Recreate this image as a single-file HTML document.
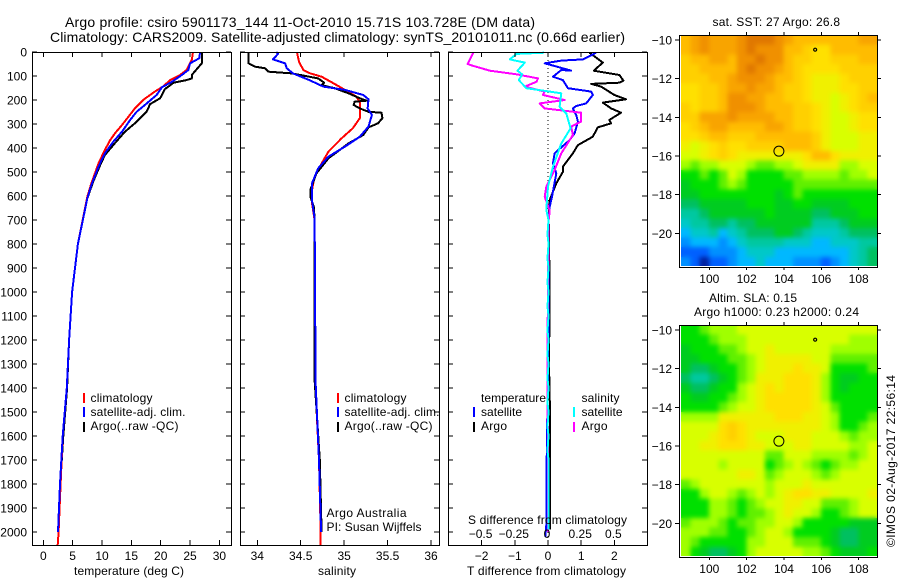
<!DOCTYPE html>
<html lang="en">
<head>
<meta charset="utf-8">
<title>Argo profile csiro 5901173_144</title>
<style>
html,body{margin:0;padding:0;background:#fff;}
svg{display:block;}
text{font-family:"Liberation Sans",sans-serif;font-size:12px;fill:#000;}
.t{font-size:14px;}
</style>
</head>
<body>
<svg id="chart" xmlns="http://www.w3.org/2000/svg" width="900" height="580" viewBox="0 0 900 580">
<defs>
<filter id="soften" filterUnits="userSpaceOnUse" x="660" y="20" width="240" height="560" color-interpolation-filters="sRGB">
<feGaussianBlur in="SourceGraphic" stdDeviation="2.5" result="b"/>
<feMerge><feMergeNode in="SourceGraphic"/><feMergeNode in="b"/></feMerge>
</filter>
<clipPath id="clip-sst"><rect x="681" y="35" width="196" height="231"/></clipPath>
<clipPath id="clip-sla"><rect x="681" y="325" width="196" height="231"/></clipPath>
</defs>
<rect x="0" y="0" width="900" height="580" fill="#fff"/>
<g id="maps"></g>
<g id="marks"></g>
<g id="axes"></g>

<text class="t" x="65" y="27" textLength="470">Argo profile: csiro 5901173_144 11-Oct-2010 15.71S 103.728E (DM data)</text>
<text class="t" x="50" y="42" textLength="575">Climatology: CARS2009. Satellite-adjusted climatology: synTS_20101011.nc (0.66d earlier)</text>

<text x="74" y="575" textLength="110">temperature (deg C)</text>
<text x="318" y="575" textLength="38">salinity</text>
<text x="467" y="575" textLength="159">T difference from climatology</text>
<text x="468" y="524" textLength="159">S difference from climatology</text>

<g>
<rect x="83" y="393" width="2" height="10" fill="#f00"/>
<rect x="83" y="407" width="2" height="10" fill="#00f"/>
<rect x="83" y="422" width="2" height="10" fill="#000"/>
<text x="90.5" y="402" textLength="62">climatology</text>
<text x="90.5" y="416" textLength="95">satellite-adj. clim.</text>
<text x="90.5" y="430" textLength="88">Argo(..raw -QC)</text>
</g>
<g>
<rect x="337" y="393" width="2" height="10" fill="#f00"/>
<rect x="337" y="407" width="2" height="10" fill="#00f"/>
<rect x="337" y="422" width="2" height="10" fill="#000"/>
<text x="344.5" y="402" textLength="62">climatology</text>
<text x="344.5" y="416" textLength="95">satellite-adj. clim.</text>
<text x="344.5" y="430" textLength="88">Argo(..raw -QC)</text>
<text x="326.5" y="517" textLength="80">Argo Australia</text>
<text x="326.5" y="531" textLength="95">PI: Susan Wijffels</text>
</g>
<g>
<text x="481" y="402" textLength="65">temperature</text>
<rect x="473" y="407" width="2" height="10" fill="#00f"/>
<rect x="473" y="422" width="2" height="10" fill="#000"/>
<text x="481" y="416" textLength="41">satellite</text>
<text x="481" y="430" textLength="26">Argo</text>
<text x="581.5" y="402" textLength="38">salinity</text>
<rect x="573" y="407" width="2" height="10" fill="#0ff"/>
<rect x="573" y="422" width="2" height="10" fill="#f0f"/>
<text x="581.5" y="416" textLength="41">satellite</text>
<text x="581.5" y="430" textLength="26">Argo</text>
</g>

<text x="712.5" y="26" textLength="127.5">sat. SST: 27 Argo: 26.8</text>
<text x="709" y="302" textLength="88">Altim. SLA: 0.15</text>
<text x="694" y="316" textLength="165">Argo h1000: 0.23 h2000: 0.24</text>
<text transform="translate(895,547) rotate(-90)" x="0" y="0" textLength="172">©IMOS 02-Aug-2017 22:56:14</text>
</svg>

<script>
// ---- axis ticks and labels ----
const depthTicks = [0,100,200,300,400,500,600,700,800,900,1000,1100,1200,1300,1400,1500,1600,1700,1800,1900,2000];
const tempTicks = [0,5,10,15,20,25,30];
const salTicks = [34,34.5,35,35.5,36];
const salTickLabels = ['34','34.5','35','35.5','36'];
const tDiffTicks = [-2,-1,0,1,2];
const tDiffLabels = ['−2','−1','0','1','2'];
const sDiffTicks = [-0.5,-0.25,0,0.25,0.5];
const sDiffLabels = ['−0.5','−0.25','0','0.25','0.5'];
const lonTicks = [100,102,104,106,108];
const latTicks = [-10,-12,-14,-16,-18,-20];

// ---- temperature profiles ----
const climTempDepth = [0,33,75,96,117,142,165,200,235,270,304,339,367,408,464,547,603,800,1000,1200,1400,1600,1800,2000,2054];
const climTemp = [25.5,25.3,24.4,23.3,21.6,20.5,19,17,15.6,14.5,13.4,12.2,11.4,10.5,9.4,8.2,7.5,5.9,4.9,4.4,4,3.3,2.95,2.6,2.45];
const satTempDepth = [0,26,47,75,96,124,147,179,221,249,283,332,374,422,478,554,610,800,1000,1200,1400,1600,1800,2000];
const satTemp = [26.7,26.6,25,24.7,23.6,21.9,20.2,19.3,17.3,15.9,14.8,13.4,11.9,10.5,9.4,8.2,7.5,5.9,4.9,4.4,4,3.3,2.85,2.5];
const argoTempDepth = [0,47,96,110,117,128,155,193,217,249,297,332,380,429,471,540,610,800,1000,1200,1400,1600,1800,2000];
const argoTemp = [27,27,25.3,25.3,24.4,22.2,20.7,19.9,18.2,17.6,15.6,13.9,12.2,10.5,9.7,8.5,7.5,5.9,4.9,4.4,4.05,3.4,2.9,2.55];

// ---- salinity profiles ----
const climSalDepth = [0,40,75,89,103,130,158,186,207,276,318,360,415,464,520,575,630,700,1000,1367,1700,2000,2054];
const climSal = [34.456,34.48,34.53,34.61,34.74,34.875,35.01,35.14,35.18,35.18,35.1,34.97,34.82,34.74,34.66,34.63,34.63,34.66,34.665,34.665,34.71,34.73,34.73];
const satSalDepth = [0,8,31,47,68,89,117,144,158,179,197,235,262,311,353,394,436,485,547,617,693,1000,1367,1700,2000];
const satSal = [34.22,34.24,34.18,34.32,34.34,34.41,34.6,34.76,35.01,35.22,35.28,35.27,35.32,35.28,35.18,35.01,34.82,34.7,34.63,34.63,34.66,34.665,34.67,34.71,34.735];
const argoSalDepth = [0,47,61,68,82,89,110,128,138,151,172,193,203,207,221,235,249,253,276,297,314,346,381,443,506,575,603,644,693,1000,1367,1700,2000];
const argoSal = [33.9,33.9,33.97,34.09,34.13,34.4,34.7,34.77,34.74,34.89,35.05,35.18,35.26,35.12,35.11,35.18,35.28,35.43,35.44,35.39,35.28,35.22,35.05,34.82,34.68,34.61,34.61,34.65,34.66,34.66,34.66,34.72,34.74];

// ---- difference profiles ----
const satTDiffDepth = [3,31,36,47,64,78,75,103,117,151,165,179,214,225,235,262,290,339,367,422,464,506,603,644,700,1000,1300,1700,1950,2020];
const satTDiff = [1.45,1.05,0.4,-0.1,0.35,0.7,0.4,0.15,0.45,0.6,1.3,1.35,1.15,0.85,0.75,0.85,0.9,0.8,0.65,0.2,0.15,0.25,0.12,0.05,0.02,0.02,0,-0.04,-0.04,-0.08];
const argoTDiffDepth = [3,44,78,96,119,128,133,144,179,197,211,235,253,283,297,314,353,388,422,478,499,547,617,700,1000,1300,1500,1650,1990];
const argoTDiff = [1.25,1.65,1.38,2.15,2.27,2.15,1.3,1.6,2,2.35,1.65,1.9,2.2,1.85,1.9,1.5,1.35,0.9,0.75,0.45,0.45,0.25,0.05,0.02,0.05,0.03,0.06,0.06,0.06];
const argoSDiffDepth = [3,50,58,78,93,110,124,144,165,179,200,214,235,253,290,311,346,422,492,561,603,661,700,1000,1300,1700,2000];
const argoSDiff = [-0.5625,-0.605,-0.5625,-0.4375,-0.2375,-0.075,-0.0875,-0.175,-0.025,-0.0375,0.125,-0.0625,-0.025,0.25,0.25,0.175,0.1875,0.1,0.05,-0.0125,-0.025,0.0125,0.005,0,-0.005,0,0];
const satSDiffDepth = [3,8,31,44,78,93,117,151,172,228,256,318,381,478,561,658,700,760,800,860,900,960,1000,1060,1100,1160,1200,1260,1300,1360,1400,1460,1500,1560,1600,1660,1700,1800,1990];
const satSDiff = [-0.03,-0.2375,-0.2875,-0.175,-0.23,-0.195,-0.22,-0.1625,0.1,0.0875,0.1375,0.17,0.1,0.0375,0,-0.0125,0.004,-0.004,0.004,-0.004,0.004,-0.004,0.004,-0.004,0.004,-0.004,0.004,-0.004,0.004,-0.004,0.004,-0.004,0.004,-0.004,0.004,-0.004,0.004,0.002,0.002];

// ---- map values (colour level per cell, 0 = coldest/lowest, 18 = warmest/highest) ----
const sstCells = [
[15,16,17,16,16,16,17,18,18,18,17,16,15,15,15,15,15,15,15,16,16],
[15,16,17,16,16,16,17,18,17,17,17,15,15,14,13,13,15,15,15,15,15],
[14,15,15,16,16,15,17,17,18,17,17,15,14,14,13,13,14,14,14,15,15],
[14,14,15,15,15,15,17,18,17,17,16,15,14,13,13,13,13,14,14,14,14],
[14,14,14,15,15,16,17,17,17,16,15,15,14,13,12,12,12,13,14,14,14],
[13,13,14,14,15,16,16,17,16,16,15,14,14,13,12,12,12,13,13,14,14],
[13,13,14,14,15,17,17,16,16,15,15,14,14,13,12,12,11,12,13,14,15],
[14,13,14,14,15,17,17,17,16,15,15,15,14,14,13,12,11,12,13,14,14],
[14,14,16,16,16,17,16,16,16,16,15,15,14,14,13,12,11,11,12,13,13],
[13,14,15,16,16,15,15,15,15,16,16,15,14,14,13,12,11,11,12,13,13],
[13,13,14,15,15,14,14,14,15,15,15,15,15,15,14,12,11,11,11,12,12],
[12,11,12,13,14,13,13,14,14,14,14,15,15,15,14,12,11,11,11,12,12],
[11,11,12,13,14,13,12,12,12,12,12,12,12,13,15,15,13,12,12,12,12],
[10,9,10,10,11,11,11,10,9,9,10,10,11,12,12,12,12,10,10,11,11],
[8,8,9,8,9,11,10,8,8,8,8,9,9,10,10,10,10,9,10,10,11],
[7,8,8,8,9,10,9,8,8,8,8,8,9,9,9,9,9,9,9,9,9],
[7,7,8,8,8,8,8,8,8,8,7,8,9,8,8,8,8,8,8,8,8],
[6,6,7,7,7,7,7,8,8,8,7,7,8,8,7,7,7,7,8,8,8],
[5,5,6,7,7,7,7,7,7,8,7,7,7,7,6,6,7,7,7,8,8],
[4,5,5,6,6,5,6,6,7,7,7,7,7,7,5,5,5,6,7,7,7],
[3,4,4,5,3,4,5,6,6,6,7,7,6,5,4,4,4,5,6,6,6],
[2,3,3,3,2,3,4,5,5,5,5,4,4,4,3,3,4,4,4,5,5],
[1,1,1,2,2,2,3,4,4,4,3,3,3,3,3,3,3,3,4,5,6],
[2,1,0,1,1,2,3,3,4,3,3,3,2,2,2,1,2,3,4,5,6]
];
const slaCells = [
[8,8,9,10,10,10,11,11,11,11,11,11,11,11,11,11,11,11,11,11,11],
[8,8,8,9,10,10,10,11,11,11,11,11,11,11,11,11,11,11,10,10,10],
[7,8,8,8,9,9,10,11,11,12,11,11,11,11,11,11,10,10,10,10,10],
[7,7,8,8,8,9,9,10,11,12,12,12,12,12,11,11,9,9,9,9,9],
[7,6,6,7,8,8,9,10,11,12,12,12,13,12,12,11,8,8,8,8,9],
[6,5,5,6,7,8,9,10,12,12,12,13,13,13,12,10,8,7,7,8,8],
[7,6,6,7,8,8,10,11,12,13,12,13,13,13,12,10,8,7,8,8,8],
[8,7,7,8,8,9,10,11,12,13,13,13,13,13,12,10,8,8,8,8,8],
[8,8,8,8,9,10,11,11,12,13,13,13,13,13,12,11,9,8,8,8,8],
[10,10,10,10,12,12,12,12,12,12,13,13,13,12,12,11,10,8,8,8,9],
[11,11,11,11,13,14,13,12,12,12,12,12,12,12,12,11,10,8,8,9,10],
[11,11,11,12,13,14,13,12,11,11,11,12,12,12,11,11,11,10,9,10,10],
[11,11,12,12,13,13,13,12,12,11,11,11,12,12,11,11,11,11,10,10,11],
[11,11,11,11,11,11,11,11,11,9,9,11,11,11,10,10,10,10,9,10,11],
[11,11,11,11,10,11,11,11,11,8,9,10,11,10,9,8,9,10,10,11,11],
[11,11,11,11,11,11,12,12,11,9,10,11,11,11,10,9,10,11,11,11,11],
[9,10,11,11,11,11,11,11,11,10,11,11,11,12,11,11,11,11,11,11,11],
[8,8,10,11,11,10,9,10,11,10,11,12,13,13,12,12,11,11,11,11,12],
[8,8,8,10,10,9,8,9,10,11,11,12,12,11,11,9,9,9,10,11,11],
[8,8,8,10,10,9,8,9,9,10,11,12,11,11,10,8,8,9,10,11,11],
[9,10,10,10,9,8,9,9,10,10,11,11,10,8,8,8,8,8,7,7,7],
[10,10,10,9,9,8,8,9,10,11,11,10,8,8,8,8,7,6,6,7,7],
[10,9,8,8,8,8,8,10,10,11,11,11,9,9,9,8,7,6,6,7,7],
[10,8,7,6,6,7,8,10,11,11,11,11,11,10,10,9,8,7,7,7,8]
];
const palette = ['#0020a0','#0060ff','#0090ff','#00b8ff','#00c8c8','#00c8a0','#00c060','#00cc20','#00e000','#60f000','#a0ff00','#d8ff00','#f0f000','#ffe000','#ffd000','#ffbc00','#f8a400','#f09000','#e07800'];
const floatLon = [103.728];
const floatLat = [-15.71];
const islandLon = [105.67];
const islandLat = [-10.45];

// ---- scales ----
const NS = 'http://www.w3.org/2000/svg';
const depthY = d => 52 + d * 0.24;
const tempX = t => 43.3 + t * 5.87;
const salX = s => 257.3 + (s - 34) * 86.85;
const tDiffX = t => 548 + t * 33.2;
const sDiffX = s => 548 + s * 132.8;
const lonX = lon => 709.3 + (lon - 100) * 18.67;
const latY = (lat, top) => top + (-10 - lat) * 19.33;

function mk(tag, attrs, parent) {
  const el = document.createElementNS(NS, tag);
  for (const k in attrs) el.setAttribute(k, attrs[k]);
  parent.appendChild(el);
  return el;
}
const axesG = document.getElementById('axes');
const marksG = document.getElementById('marks');
const mapsG = document.getElementById('maps');

function tickLine(x1, y1, x2, y2) {
  const el = mk('line', {x1, y1, x2, y2, stroke:'#000', 'stroke-width':1, 'shape-rendering':'crispEdges'}, axesG);
  
  
}
function label(x, y, str, anchor) {
  const el = mk('text', {x, y, 'text-anchor':anchor}, axesG);
  el.textContent = str;
  
  
}
function frame(x, y, w, h) {
  const el = mk('rect', {x:x+0.5, y:y+0.5, width:w, height:h, fill:'none', stroke:'#000', 'stroke-width':1.2, 'shape-rendering':'crispEdges'}, axesG);
  
  
}
function profile(depths, values, xf, color, name) {
  const pts = depths.map((d, i) => xf(values[i]).toFixed(1) + ',' + depthY(d).toFixed(1)).join(' ');
  const el = mk('polyline', {points:pts, fill:'none', stroke:color, 'stroke-width':2, 'stroke-linejoin':'round', 'shape-rendering':'crispEdges'}, marksG);
  
  
}

// ---- profile panels ----
const panels = [[32,199],[240,199],[448,199]];
panels.forEach(p => {
  frame(p[0], 52, p[1], 493);
  depthTicks.forEach(d => {
    tickLine(p[0], depthY(d), p[0] + 5, depthY(d));
    tickLine(p[0] + p[1] - 5, depthY(d), p[0] + p[1], depthY(d));
  });
});
depthTicks.forEach(d => label(27, depthY(d) + 4.5, String(d), 'end'));

tempTicks.forEach(t => {
  tickLine(tempX(t), 52, tempX(t), 57);
  tickLine(tempX(t), 540, tempX(t), 545);
  label(tempX(t), 560, String(t), 'middle');
});
salTicks.forEach((s, i) => {
  tickLine(salX(s), 52, salX(s), 57);
  tickLine(salX(s), 540, salX(s), 545);
  label(salX(s), 560, salTickLabels[i], 'middle');
});
tDiffTicks.forEach((t, i) => {
  tickLine(tDiffX(t), 52, tDiffX(t), 57);
  tickLine(tDiffX(t), 540, tDiffX(t), 545);
  label(tDiffX(t), 560, tDiffLabels[i], 'middle');
});
sDiffTicks.forEach((s, i) => label(sDiffX(s) - 1, 538, sDiffLabels[i], 'middle'));

const zeroLine = mk('line', {x1:tDiffX(0), y1:52, x2:tDiffX(0), y2:545, stroke:'#000', 'stroke-width':1, 'stroke-dasharray':'1 3', 'shape-rendering':'crispEdges'}, marksG);



profile(argoTempDepth, argoTemp, tempX, '#000', 'temperature-argo-line');
profile(climTempDepth, climTemp, tempX, '#f00', 'temperature-climatology-line');
profile(satTempDepth, satTemp, tempX, '#00f', 'temperature-satellite-line');
profile(climSalDepth, climSal, salX, '#f00', 'salinity-climatology-line');
profile(argoSalDepth, argoSal, salX, '#000', 'salinity-argo-line');
profile(satSalDepth, satSal, salX, '#00f', 'salinity-satellite-line');
profile(argoTDiffDepth, argoTDiff, tDiffX, '#000', 'difference-t-argo-line');
profile(satTDiffDepth, satTDiff, tDiffX, '#00f', 'difference-t-satellite-line');
profile(argoSDiffDepth, argoSDiff, sDiffX, '#f0f', 'difference-s-argo-line');
profile(satSDiffDepth, satSDiff, sDiffX, '#0ff', 'difference-s-satellite-line');

// ---- maps ----
function drawMap(cells, frameTop, tickTop, labelBase, name, clipId) {
  const cw = 196 / cells[0].length;
  const ch = 231.5 / cells.length;
  const clipG = mk('g', {'clip-path':'url(#' + clipId + ')'}, mapsG);
  
  
  const cellG = mk('g', {filter:'url(#soften)'}, clipG);
  
  
  cells.forEach((row, r) => row.forEach((v, c) => {
    const cell = mk('rect', {x:(681 + c * cw).toFixed(2), y:(frameTop + r * ch).toFixed(2), width:(cw + 0.5).toFixed(2), height:(ch + 0.5).toFixed(2), fill:palette[v], 'shape-rendering':'crispEdges'}, cellG);
    
    
  }));
  frame(679, frameTop, 198, 232);
  lonTicks.forEach(lon => {
    tickLine(lonX(lon), frameTop - 3, lonX(lon), frameTop);
    tickLine(lonX(lon), frameTop + 232, lonX(lon), frameTop + 235);
    label(lonX(lon), labelBase, String(lon), 'middle');
  });
  latTicks.forEach(lat => {
    const y = latY(lat, tickTop);
    tickLine(675, y, 679, y);
    tickLine(877, y, 881, y);
    label(672, y + 4.5, '−' + Math.abs(lat), 'end');
  });
  const fl = mk('circle', {cx:lonX(floatLon[0]), cy:latY(floatLat[0], tickTop) + 0.8, r:5, fill:'none', stroke:'#000', 'stroke-width':1}, axesG);
  
  
  const isl = mk('circle', {cx:lonX(islandLon[0]), cy:latY(islandLat[0], tickTop) + 1, r:1.5, fill:'none', stroke:'#000', 'stroke-width':1.2}, axesG);
  
  
}
drawMap(sstCells, 35, 40, 283, 'sst-map', 'clip-sst');
drawMap(slaCells, 325, 330, 573, 'sla-map', 'clip-sla');
</script>
</body>
</html>
